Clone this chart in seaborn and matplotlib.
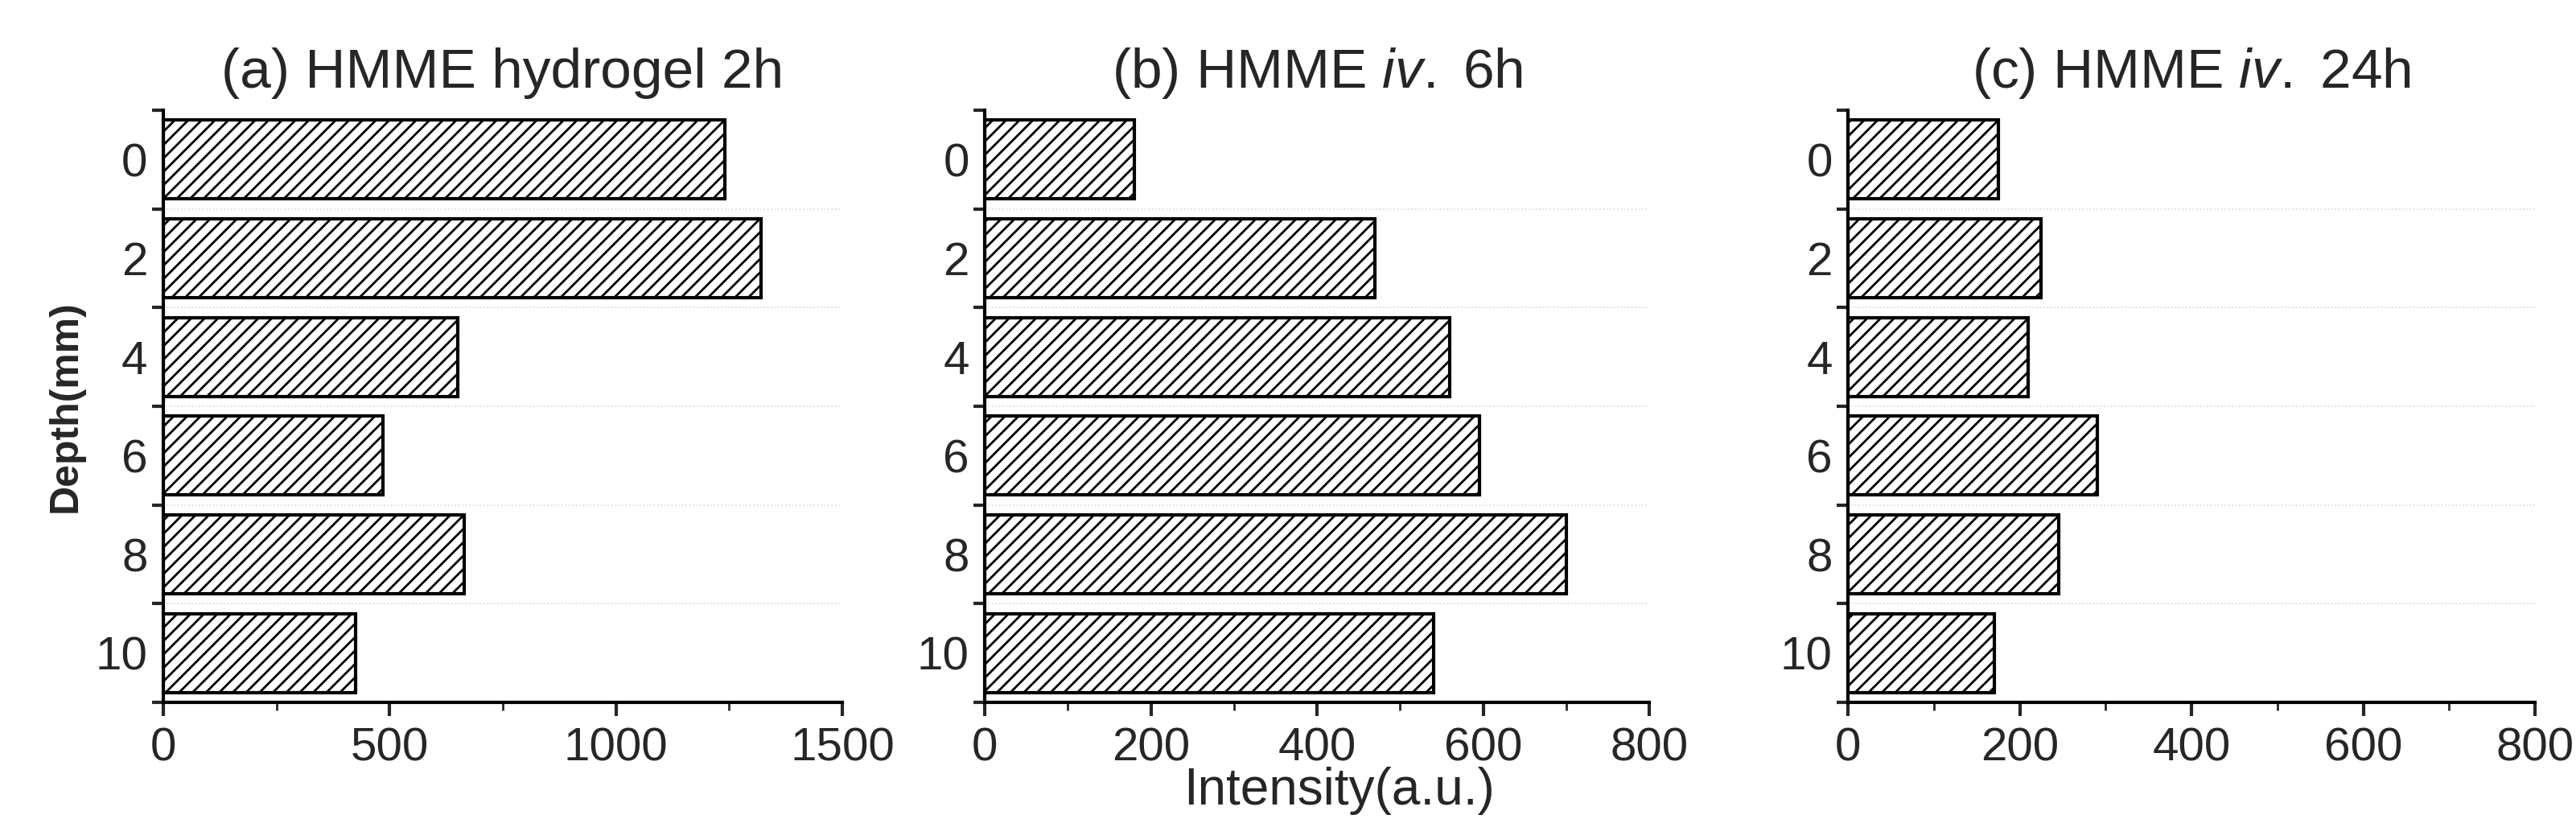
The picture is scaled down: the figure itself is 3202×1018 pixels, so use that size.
import numpy as np
import pandas as pd
import matplotlib
matplotlib.use("Agg")
import matplotlib.pyplot as plt
import seaborn as sns

depths = ["0", "2", "4", "6", "8", "10"]
hydrogel_2h = [1240, 1320, 650, 485, 665, 425]
iv_6h = [180, 470, 560, 595, 700, 540]
iv_24h = [175, 225, 210, 290, 245, 170]
titles = ["(a) HMME hydrogel 2h", r"(b) HMME $\mathit{iv.}$ 6h", r"(c) HMME $\mathit{iv.}$ 24h"]
xlims = [1500, 800, 800]
xsteps = [500, 200, 200]

# render at half dpi with double size so hatch lines come out sparser
S = 2
sns.set_style("white")
plt.rcParams["font.family"] = ["Liberation Sans", "DejaVu Sans"]
plt.rcParams["mathtext.fontset"] = "custom"
plt.rcParams["mathtext.it"] = "Liberation Sans:italic"
plt.rcParams["mathtext.rm"] = "Liberation Sans"
plt.rcParams["hatch.linewidth"] = 2.0 * S

fig = plt.figure(figsize=(32.02 * S, 10.18 * S), dpi=100 / S)
lefts = [0.0634, 0.3823, 0.7174]
widths = [0.2636, 0.258, 0.2667]

for i, vals in enumerate([hydrogel_2h, iv_6h, iv_24h]):
    ax = fig.add_axes([lefts[i], 0.1424, widths[i], 0.723])
    df = pd.DataFrame({"depth": depths, "value": vals})
    sns.barplot(data=df, x="value", y="depth", orient="h", order=depths,
                color="white", edgecolor="black", linewidth=3 * S, width=0.8,
                hatch="/", ax=ax)
    ax.set_ylim(5.5, -0.5)
    ax.set_xlim(0, xlims[i])
    ax.set_xticks(np.arange(0, xlims[i] + 1, xsteps[i]))
    ax.set_xticks(np.arange(xsteps[i] / 2, xlims[i], xsteps[i]), minor=True)
    ax.set_yticks(np.arange(6))
    ax.set_yticklabels(depths)
    ax.set_yticks(np.arange(-0.5, 6, 1), minor=True)
    ax.tick_params(axis="y", which="major", length=0, labelsize=42 * S, pad=14 * S)
    ax.tick_params(axis="y", which="minor", length=10 * S, width=3 * S, direction="out", left=True)
    ax.tick_params(axis="x", which="major", length=12 * S, width=3 * S, direction="out", bottom=True,
                   labelsize=42 * S, pad=10 * S)
    ax.tick_params(axis="x", which="minor", length=7 * S, width=2 * S, direction="out", bottom=True)
    for y in np.arange(0.5, 5, 1):
        ax.axhline(y, color="#d8d8d8", lw=1.2 * S, ls=":", zorder=0)
    for s in ["top", "right"]:
        ax.spines[s].set_visible(False)
    for s in ["left", "bottom"]:
        ax.spines[s].set_linewidth(3 * S)
        ax.spines[s].set_color("black")
    ax.set_xlabel("")
    ax.set_ylabel("Depth(mm)" if i == 0 else "", fontsize=36 * S, fontweight="bold", labelpad=10 * S)
    ax.set_title(titles[i], fontsize=50 * S, pad=20 * S)

fig.text(0.52, 0.005, "Intensity(a.u.)", fontsize=46 * S, ha="center", va="bottom")
fig.savefig("out.png", dpi=100 / S, facecolor="white")
